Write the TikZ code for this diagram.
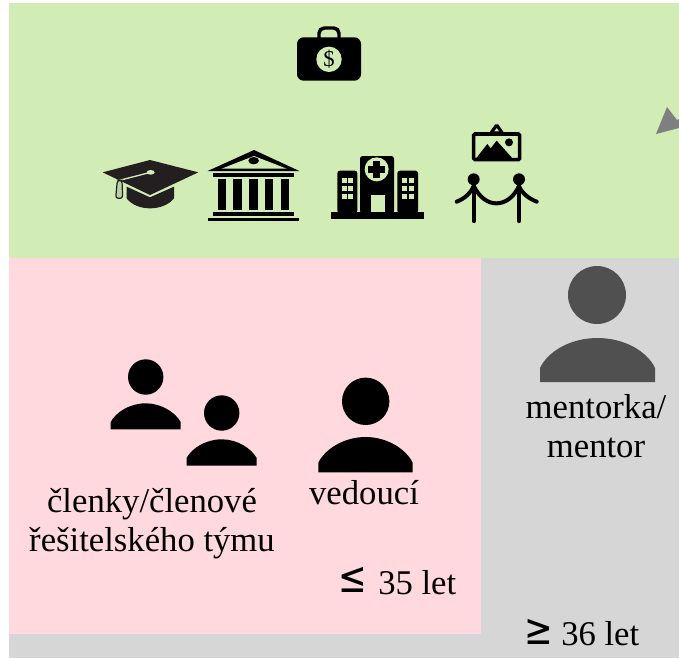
\documentclass[tikz,border=0pt]{standalone}
\usepackage{graphicx}
\usepackage{fontspec}
\setmainfont{Liberation Serif}
\newfontfamily\symfont{DejaVu Sans}
\definecolor{gr}{HTML}{D2ECB6}
\definecolor{pk}{HTML}{FFD9DD}
\definecolor{gy}{HTML}{D6D6D6}
\definecolor{dk}{HTML}{505050}
\definecolor{ar}{HTML}{7F7F7F}
\definecolor{hat}{HTML}{231F20}
\tikzset{lab/.style={font=\fontsize{26}{29}\selectfont,align=center,text=black,inner sep=0pt},
 sym/.style={font=\symfont\fontsize{27}{27}\selectfont,text=black,inner sep=0pt},
 zoomed/.style={x=0.25pt,y=-0.25pt}}
\begin{document}
\begin{tikzpicture}[x=0.75pt,y=-0.75pt]
\useasboundingbox (0,0) rectangle (679,658);
\fill[gy] (9,258) rectangle (679,658);
\fill[gr] (9,3) rectangle (679,258);
\fill[pk] (9,258) rectangle (481,634);
\fill[ar] (656,134) -- (667,107) -- (677,120) -- (679,119) -- (679,128) -- cycle;
% briefcase
\draw[line width=2.6pt,rounded corners=4pt] (319,38) -- (319,28) -- (339,28) -- (339,38);
\fill[rounded corners=5pt] (297,37.3) rectangle (361,80.7);
\fill[gr] (329,59.3) circle (12.7);
\node[inner sep=0pt,font=\fontsize{17}{17}\selectfont] (dollar) at (329,59.3) {\$};
% hat
\begin{scope}[shift={(100,145)},zoomed]
\fill[hat] (80,125) -- (150,157) -- (222,125) -- (222,160) .. controls (190,200) and (110,200) .. (80,160) -- cycle;
\fill[hat] (8,82) -- (150,45) -- (295,82) -- (150,150) -- cycle;
\draw[gr,line width=1pt] (152,82) -- (58,106);
\fill[gr] (152,82) ellipse (12 and 7);
\draw[hat,fill=gr!75!gray,line width=0.9pt,rounded corners=2pt] (52,106) -- (47,160) -- (68,160) -- (66,106) -- cycle;
\end{scope}
% bank
\begin{scope}[shift={(205,145)},zoomed]
\fill (147,15) -- (283,78) -- (8,78) -- cycle;
\fill[gr] (147,33) -- (245,71) -- (50,71) -- cycle;
\fill (146,47) ellipse (16 and 11);
\fill (25,85) rectangle (268,95);
\foreach \cx in {38,85,133,180,228} \fill (\cx,102) rectangle (\cx+25,195);
\fill (25,201) rectangle (268,212);
\fill (8,218) rectangle (283,228);
\end{scope}
% hospital
\begin{scope}[shift={(330,150)},zoomed]
\fill (3,186) rectangle (281,206);
\fill[rounded corners=2pt] (22,62) rectangle (82,190);
\fill[rounded corners=2pt] (90,18) rectangle (192,190);
\fill[rounded corners=2pt] (202,62) rectangle (264,190);
\fill[gr] (140,58) circle (36);
\fill (130,32) rectangle (150,84);
\fill (114,48) rectangle (166,68);
\fill[gr] (122,135) rectangle (164,186);
\foreach \wx in {36,55,217,237} \foreach \wy in {85,108,131} \fill[gr] (\wx,\wy) rectangle (\wx+15,\wy+15);
\end{scope}
% picture and stanchions
\begin{scope}[shift={(450,120)},zoomed]
\draw[line width=2.4pt,rounded corners=1pt] (140,15) -- (123,39) -- (157,39) -- cycle;
\draw[line width=2.7pt,rounded corners=1pt] (71,42) rectangle (209,119);
\fill (76,118) -- (112,72) -- (122,85) -- (140,62) -- (190,118) -- cycle;
\fill (177,67) circle (12);
\fill (71,178) circle (18);
\fill (207,178) circle (18);
\draw[line width=3.2pt,line cap=round] (71,190) -- (71,303);
\draw[line width=3.2pt,line cap=round] (207,190) -- (207,303);
\draw[line width=3pt,line cap=round] (20,245) .. controls (45,235) and (62,220) .. (71,198) .. controls (90,235) and (115,250) .. (139,250) .. controls (163,250) and (190,235) .. (207,198) .. controls (216,220) and (235,235) .. (260,245);
\end{scope}
% people
\fill (145.7,377) circle (17.7);
\fill (110.7,429.3) -- (110.7,422) .. controls (116,412) and (130,403.3) .. (145.7,403.3) .. controls (161,403.3) and (175,412) .. (180.7,422) -- (180.7,429.3) -- cycle;
\fill (221.7,413) circle (17.7);
\fill (186.5,465.7) -- (186.5,458) .. controls (192,448) and (206,439.3) .. (221.7,439.3) .. controls (237,439.3) and (251,448) .. (256.7,458) -- (256.7,465.7) -- cycle;
\fill (365.7,401.3) circle (23.7);
\fill (318.3,472.3) -- (318.3,462.7) .. controls (325,449) and (344,437) .. (365.7,437) .. controls (387,437) and (406,449) .. (412.7,462.7) -- (412.7,472.3) -- cycle;
\fill[dk] (597,295) circle (29);
\fill[dk] (540,382) -- (540,368) .. controls (548,351) and (571,338) .. (597.5,338) .. controls (624,338) and (647,351) .. (655,368) -- (655,382) -- cycle;
% labels
\node[lab] (a) at (152,524) {členky/členové\\řešitelského týmu};
\node[lab] (b) at (364,493) {vedoucí};
\node[lab] (c) at (596,426) {mentorka/\\mentor};
\node[lab,anchor=west] (d) at (378,583) {35 let};
\node[lab,anchor=west] (e) at (561,634) {36 let};
\node[sym] (f) at (353,580) {\scalebox{0.95}[1.2]{≤}};
\node[sym] (g) at (539,631.5) {\scalebox{0.95}[1.2]{≥}};
\end{tikzpicture}
\end{document}
